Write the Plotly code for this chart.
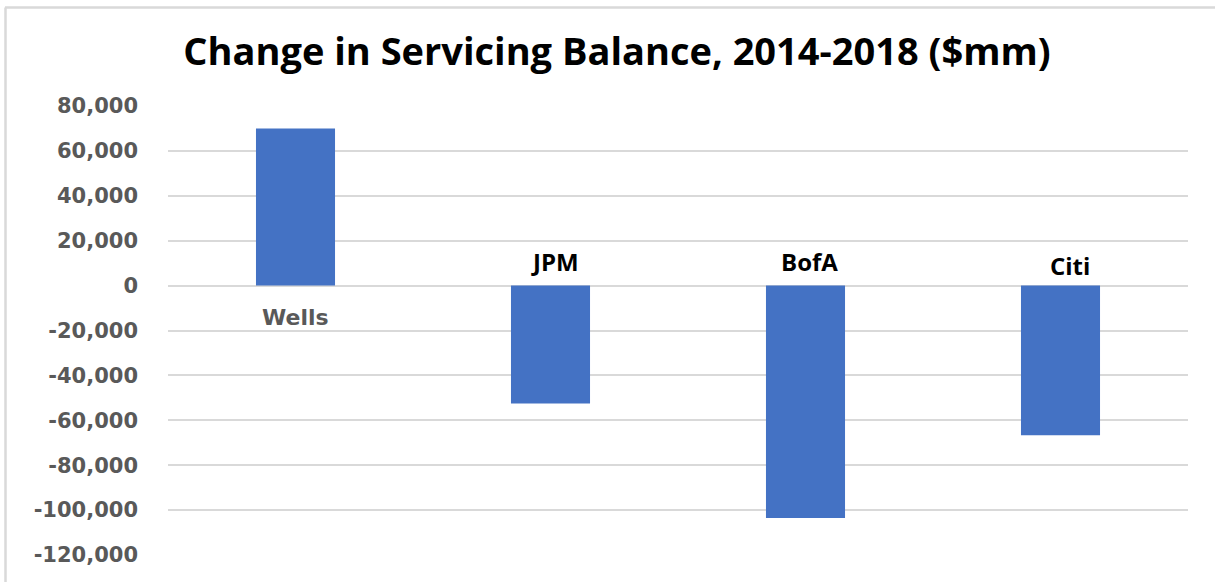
import plotly.graph_objects as go

banks = ["Wells", "JPM", "BofA", "Citi"]
change = [70000, -52500, -103500, -66700]
tick_vals = [80000, 60000, 40000, 20000, 0, -20000, -40000, -60000, -80000, -100000, -120000]
tick_text = ["80,000", "60,000", "40,000", "20,000", "0", "-20,000", "-40,000",
             "-60,000", "-80,000", "-100,000", "-120,000"]

W, H = 1215, 582
L, R, T, B = 168, 27, 106, 27

fig = go.Figure()
fig.add_trace(go.Bar(
    x=banks, y=change, width=0.31,
    marker=dict(color="#4472C4", line=dict(width=0)),
    hoverinfo="x+y",
))

annotations = []
for name, val in zip(banks, change):
    if val >= 0:
        annotations.append(dict(
            x=name, y=0, xref="x", yref="y", text="<b>%s</b>" % name, showarrow=False,
            yanchor="top", yshift=-17,
            font=dict(family="DejaVu Sans", size=22, color="#595959"),
        ))
    else:
        annotations.append(dict(
            x=name, y=0, xref="x", yref="y", text="<b>%s</b>" % name, showarrow=False,
            yanchor="bottom", yshift=6 if name != "Citi" else 2,
            xshift=4 if name != "Citi" else 9,
            font=dict(family="Open Sans", size=24, color="#000000"),
        ))

def px_x(p):
    return (p - L) / (W - L - R)

def px_y(p):
    return (H - B - p) / (H - T - B)

fig.update_layout(
    width=W, height=H,
    margin=dict(l=L, r=R, t=T, b=B),
    paper_bgcolor="white", plot_bgcolor="white",
    showlegend=False,
    title=dict(
        text="<b>Change in Servicing Balance, 2014-2018 ($mm)</b>",
        x=617 / W, xanchor="center", xref="container",
        y=1 - 52 / H, yanchor="middle", yref="container",
        font=dict(family="Open Sans", size=38, color="#000000"),
    ),
    xaxis=dict(
        range=[-0.5, 3.5], showticklabels=False, showgrid=False,
        zeroline=False, showline=False, ticks="",
    ),
    yaxis=dict(
        range=[-120000, 80000], tickvals=tick_vals, ticktext=tick_text,
        showgrid=True, gridcolor="#D9D9D9", gridwidth=1.5,
        zeroline=True, zerolinecolor="#D9D9D9", zerolinewidth=1.5,
        showline=False, ticks="", ticklabelstandoff=29,
        tickfont=dict(family="DejaVu Sans", size=21, color="#595959", weight="bold"),
    ),
    annotations=annotations,
    shapes=[
        dict(type="line", xref="paper", yref="paper",
             x0=px_x(5), x1=px_x(1220), y0=px_y(7.5), y1=px_y(7.5),
             line=dict(color="#D9D9D9", width=2.5)),
        dict(type="line", xref="paper", yref="paper",
             x0=px_x(5.5), x1=px_x(5.5), y0=px_y(7.5), y1=px_y(590),
             line=dict(color="#D9D9D9", width=2.5)),
    ],
)

fig.write_html("out.html")
